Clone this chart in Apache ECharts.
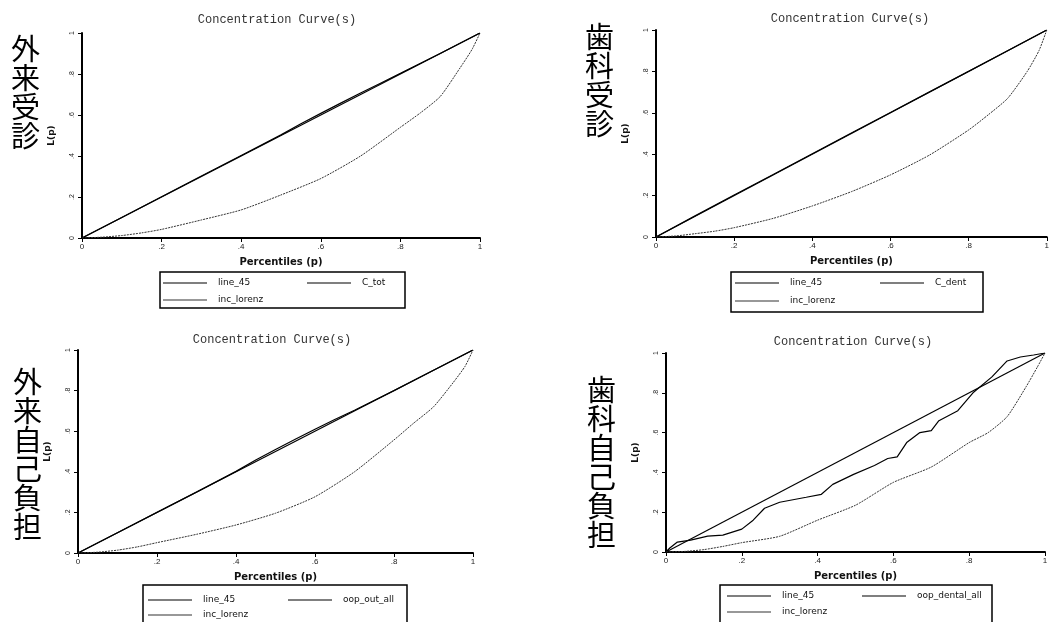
<!DOCTYPE html>
<html>
<head>
<meta charset="utf-8">
<script src="https://cdn.jsdelivr.net/npm/echarts@6/dist/echarts.min.js"></script>
<style>
  html, body { margin: 0; padding: 0; background: #fff; }
  #main { width: 1052px; height: 622px; }
</style>
</head>
<body>
<div id="main"></div>
<script>
// tick labels (Stata style)
var tickLabels = ['0', '.2', '.4', '.6', '.8', '1'];

// 45 degree line
var diagP = [0, 1];

// Lorenz curves share one percentile grid
var lorenzP = [0, 0.05, 0.1, 0.15, 0.2, 0.3, 0.4, 0.5, 0.6, 0.7, 0.8, 0.85, 0.9, 0.95, 0.98, 1];
var lorenz1 = [0, 0.004, 0.012, 0.025, 0.042, 0.088, 0.137, 0.21, 0.29, 0.4, 0.54, 0.61, 0.69, 0.83, 0.92, 1];
var lorenz2 = [0, 0.005, 0.016, 0.028, 0.045, 0.09, 0.15, 0.219, 0.3, 0.396, 0.517, 0.59, 0.67, 0.8, 0.9, 1];
var lorenz3 = [0, 0.004, 0.014, 0.03, 0.051, 0.092, 0.138, 0.196, 0.277, 0.4, 0.557, 0.64, 0.72, 0.84, 0.92, 1];
var lorenz4 = [0, 0.003, 0.012, 0.028, 0.047, 0.079, 0.16, 0.235, 0.35, 0.427, 0.55, 0.6, 0.68, 0.83, 0.93, 1];

// concentration curves
var conc1P = [0, 0.1, 0.2, 0.3, 0.4, 0.5, 0.55, 0.6, 0.65, 0.7, 0.75, 0.8, 0.9, 1];
var conc1 = [0, 0.1, 0.201, 0.302, 0.402, 0.503, 0.557, 0.608, 0.658, 0.707, 0.755, 0.803, 0.9, 1];
var conc2P = [0, 0.1, 0.2, 0.3, 0.4, 0.5, 0.6, 0.7, 0.8, 0.9, 1];
var conc2 = [0, 0.102, 0.203, 0.302, 0.402, 0.502, 0.601, 0.701, 0.8, 0.9, 1];
var conc3P = [0, 0.1, 0.2, 0.3, 0.4, 0.45, 0.5, 0.55, 0.6, 0.65, 0.7, 0.8, 0.9, 1];
var conc3 = [0, 0.1, 0.2, 0.3, 0.402, 0.458, 0.51, 0.56, 0.61, 0.658, 0.703, 0.8, 0.9, 1];
var conc4P = [0, 0.01, 0.03, 0.065, 0.11, 0.15, 0.2, 0.23, 0.26, 0.3, 0.37, 0.41, 0.44, 0.495, 0.55, 0.585, 0.61, 0.635, 0.67, 0.7, 0.72, 0.77, 0.81, 0.86, 0.9, 0.935, 0.97, 1];
var conc4 = [0, 0.02, 0.05, 0.06, 0.08, 0.085, 0.115, 0.16, 0.22, 0.25, 0.275, 0.29, 0.34, 0.39, 0.435, 0.47, 0.478, 0.55, 0.6, 0.61, 0.66, 0.71, 0.8, 0.88, 0.96, 0.98, 0.99, 1];

var panelNames = ['外\n来\n受\n診', '歯\n科\n受\n診', '外\n来\n自\n己\n負\n担', '歯\n科\n自\n己\n負\n担'];
var concNames = ['C_tot', 'C_dent', 'oop_out_all', 'oop_dental_all'];
var lorenzName = 'inc_lorenz';
var diagName = 'line_45';
var titleText = 'Concentration Curve(s)';

function pairs(p, v) {
  var out = [];
  for (var i = 0; i < p.length; i++) out.push([p[i], v[i]]);
  return out;
}

var grids = [
  {left: 82, top: 33, width: 398, height: 205},
  {left: 656, top: 30, width: 394, height: 207},
  {left: 78, top: 350, width: 395, height: 203},
  {left: 666, top: 353, width: 379, height: 199}
];

var xAxes = [], yAxes = [], series = [], graphics = [], legends = [];
var concP = [conc1P, conc2P, conc3P, conc4P];
var concV = [conc1, conc2, conc3, conc4];
var lorV = [lorenz1, lorenz2, lorenz3, lorenz4];

// chinese labels, titles and legend layout per panel
var cnPos = [[11, 34], [585, 22], [13, 367], [587, 375]];
var titlePos = [[277, 14], [850, 13], [272, 334], [853, 336]];
var legendBox = [[160, 272, 245, 36], [731, 272, 252, 40], [143, 585, 264, 42], [720, 585, 272, 38]];
var legendCols = [[163, 307, 277.5, 6], [735, 880, 277.5, 7], [148, 288, 594.5, 4], [727, 862, 590.5, 5]];

for (var k = 0; k < 4; k++) {
  xAxes.push({
    gridIndex: k, type: 'value', min: 0, max: 1, interval: 0.2,
    name: 'Percentiles (p)', nameLocation: 'middle', nameGap: 19,
    nameTextStyle: {fontSize: 10, color: '#111', fontFamily: 'DejaVu Sans', fontWeight: 'bold'},
    axisLine: {show: true, lineStyle: {color: '#000', width: 2}},
    axisTick: {show: true, length: 4, lineStyle: {color: '#000'}},
    axisLabel: {fontSize: 8, color: '#222', margin: 5, formatter: function (v, i) { return tickLabels[i]; }},
    splitLine: {show: false}
  });
  yAxes.push({
    gridIndex: k, type: 'value', min: 0, max: 1, interval: 0.2,
    name: 'L(p)', nameLocation: 'middle', nameGap: 26, nameRotate: 90,
    nameTextStyle: {fontSize: 9, color: '#111', fontFamily: 'DejaVu Sans', fontWeight: 'bold'},
    axisLine: {show: true, lineStyle: {color: '#000', width: 2}},
    axisTick: {show: true, length: 4, lineStyle: {color: '#000'}},
    axisLabel: {fontSize: 7, color: '#222', rotate: 90, margin: 6, formatter: function (v, i) { return tickLabels[i]; }},
    splitLine: {show: false}
  });
  series.push({
    name: diagName, type: 'line', xAxisIndex: k, yAxisIndex: k,
    data: pairs(diagP, diagP), showSymbol: false, silent: true,
    lineStyle: {color: '#000', width: 1.2}, itemStyle: {color: '#000'}
  });
  series.push({
    name: concNames[k], type: 'line', xAxisIndex: k, yAxisIndex: k,
    data: pairs(concP[k], concV[k]), showSymbol: false, silent: true,
    lineStyle: {color: '#000', width: 1.2}, itemStyle: {color: '#000'}
  });
  series.push({
    name: lorenzName, type: 'line', xAxisIndex: k, yAxisIndex: k, smooth: 0.2,
    data: pairs(lorenzP, lorV[k]), showSymbol: false, silent: true,
    lineStyle: {color: '#333', width: 1, type: [2, 1]}, itemStyle: {color: '#333'}
  });

  graphics.push({
    type: 'text', left: cnPos[k][0], top: cnPos[k][1],
    style: {text: panelNames[k], fontSize: 29, lineHeight: 29, fill: '#000', fontFamily: 'Noto Sans CJK JP'}
  });
  graphics.push({
    type: 'text', x: titlePos[k][0], y: titlePos[k][1],
    style: {text: titleText, fontSize: 12, fill: '#333', fontFamily: 'Liberation Mono', align: 'center'}
  });
  graphics.push({
    type: 'rect',
    shape: {x: legendBox[k][0], y: legendBox[k][1], width: legendBox[k][2], height: legendBox[k][3]},
    style: {fill: 'none', stroke: '#000', lineWidth: 1.5}
  });

  var legText = {fontSize: 9, color: '#111', fontFamily: 'DejaVu Sans', lineHeight: 11, padding: [0, 0, 0, 6]};
  legends.push({
    orient: 'vertical', left: legendCols[k][0], top: legendCols[k][2], padding: 0,
    itemGap: legendCols[k][3], itemWidth: 44, itemHeight: 1, icon: 'rect',
    selectedMode: false, data: [diagName, lorenzName], textStyle: legText
  });
  legends.push({
    orient: 'vertical', left: legendCols[k][1], top: legendCols[k][2], padding: 0,
    itemGap: legendCols[k][3], itemWidth: 44, itemHeight: 1, icon: 'rect',
    selectedMode: false, data: [concNames[k]], textStyle: legText
  });
}

var chart = echarts.init(document.getElementById('main'));
chart.setOption({
  backgroundColor: '#fff',
  animation: false,
  grid: grids,
  xAxis: xAxes,
  yAxis: yAxes,
  legend: legends,
  series: series,
  graphic: graphics
});
</script>
</body>
</html>
